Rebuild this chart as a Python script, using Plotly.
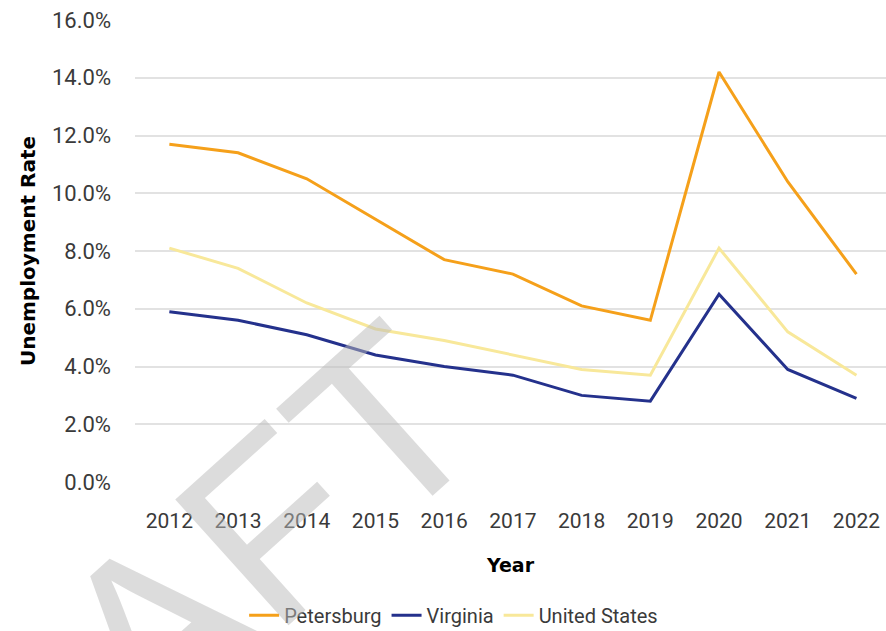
import plotly.graph_objects as go

years = ["2012", "2013", "2014", "2015", "2016", "2017", "2018", "2019", "2020", "2021", "2022"]
petersburg = [11.7, 11.4, 10.5, 9.1, 7.7, 7.2, 6.1, 5.6, 14.2, 10.4, 7.2]
virginia = [5.9, 5.6, 5.1, 4.4, 4.0, 3.7, 3.0, 2.8, 6.5, 3.9, 2.9]
united_states = [8.1, 7.4, 6.2, 5.3, 4.9, 4.4, 3.9, 3.7, 8.1, 5.2, 3.7]
y_ticks = [0, 2, 4, 6, 8, 10, 12, 14, 16]
y_tick_labels = ["0.0%", "2.0%", "4.0%", "6.0%", "8.0%", "10.0%", "12.0%", "14.0%", "16.0%"]

fig = go.Figure()
series = [
    ("Petersburg", petersburg, "#F5A01A"),
    ("Virginia", virginia, "#24318C"),
    ("United States", united_states, "#F8E89A"),
]
for name, vals, col in series:
    fig.add_trace(go.Scatter(x=years, y=vals, name=name, mode="lines",
                             line=dict(color=col, width=3)))

fig.add_annotation(text="DRAFT", xref="paper", yref="paper", x=0.0, y=-0.36,
                   xanchor="center", yanchor="middle",
                   showarrow=False, textangle=-42,
                   font=dict(family="Liberation Sans", size=246, color="rgba(185,185,185,0.5)"))

fig.update_layout(
    width=886, height=631,
    margin=dict(l=135, r=0, t=20, b=149),
    paper_bgcolor="white", plot_bgcolor="white",
    font=dict(family="Roboto", color="#3a3a3a"),
    xaxis=dict(type="category", range=[-0.5, 10.43], automargin=False,
               showgrid=False, showline=False, zeroline=False,
               tickfont=dict(size=21, color="#3a3a3a"), ticks="", ticklabelstandoff=24,
               title=dict(text="Year", font=dict(family="DejaVu Sans", size=19, color="black", weight="bold"),
                          standoff=26)),
    yaxis=dict(range=[0, 16], tickvals=y_ticks, ticktext=y_tick_labels, automargin=False,
               showgrid=True, gridcolor="#e2e2e2", gridwidth=1.5, zeroline=False,
               showline=False, ticks="", ticklabelstandoff=23,
               tickfont=dict(size=22, color="#3a3a3a"),
               title=dict(text="Unemployment Rate",
                          font=dict(family="DejaVu Sans", size=20, color="black", weight="bold"),
                          standoff=10)),
    legend=dict(orientation="h", xref="container", yref="container",
                x=0.512, xanchor="center", y=0.025, yanchor="middle",
                font=dict(size=20, color="#3a3a3a")),
    showlegend=True,
)

fig.write_html("out.html", config={"displayModeBar": False},
               post_script="document.body.style.margin='0';")
